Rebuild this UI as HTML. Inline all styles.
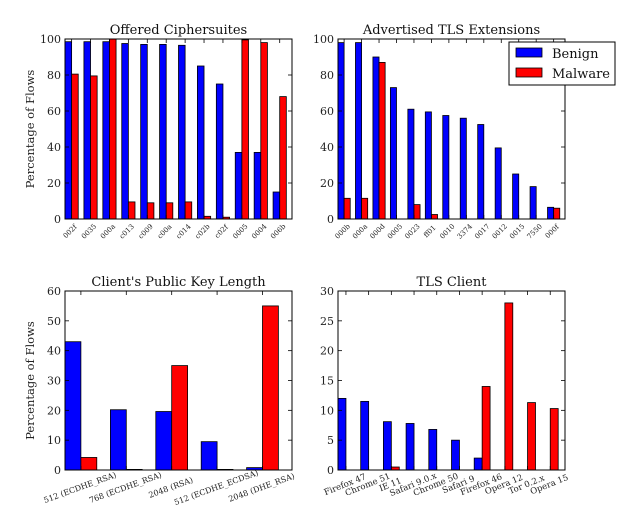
<!DOCTYPE html>
<html><head><meta charset="utf-8">
<style>
html,body{margin:0;padding:0;background:#fff;}
svg{display:block;font-family:"DejaVu Serif","Liberation Serif",serif;}
</style></head>
<body>
<svg id="fig" width="640" height="527" viewBox="0 0 640 527" xmlns="http://www.w3.org/2000/svg"></svg>
<script>
const c1Cats=["002f","0035","000a","c013","c009","c00a","c014","c02b","c02f","0005","0004","006b"];
const c1Benign=[98.5,98.5,98.5,97.5,97,97,96.5,85,75,37,37,15];
const c1Malware=[80.5,79.5,100,9.5,9,9,9.5,1.5,1,99.5,98,68];
const c1Ticks=[0,20,40,60,80,100];

const c2Cats=["000b","000a","000d","0005","0023","ff01","0010","3374","0017","0012","0015","7550","000f"];
const c2Benign=[98,98,90,73,61,59.5,57.5,56,52.5,39.5,25,18,6.5];
const c2Malware=[11.5,11.5,87,0,8,2.5,0,0,0,0,0,0,6];
const c2Ticks=[0,20,40,60,80,100];

const c3Cats=["512 (ECDHE_RSA)","768 (ECDHE_RSA)","2048 (RSA)","512 (ECDHE_ECDSA)","2048 (DHE_RSA)"];
const c3Benign=[43,20.2,19.6,9.5,0.8];
const c3Malware=[4.2,0.2,35,0.2,55];
const c3Ticks=[0,10,20,30,40,50,60];

const c4Cats=["Firefox 47","Chrome 51","IE 11","Safari 9.0.x","Chrome 50","Safari 9","Firefox 46","Opera 12","Tor 0.2.x","Opera 15"];
const c4Benign=[12,11.5,8.1,7.8,6.8,5,2,0,0,0];
const c4Malware=[0,0,0.5,0,0,0,14,28,11.3,10.3];
const c4Ticks=[0,5,10,15,20,25,30];

const NS="http://www.w3.org/2000/svg";
const fig=document.getElementById('fig');
function mk(tag,attrs,parent,text){const e=document.createElementNS(NS,tag);for(const k in attrs)e.setAttribute(k,attrs[k]);if(text!==undefined)e.textContent=text;(parent||fig).appendChild(e);return e;}

function chart(o){
  const g=mk('g',{});
  
  
  const n=o.cats.length, ymax=o.ticks[o.ticks.length-1];
  const xs=i=>o.x0+(o.x1-o.x0)*i/n;
  const ys=v=>o.y0+(o.yT-o.y0)*v/ymax;
  const w=(o.x1-o.x0)/n*0.35;
  o.cats.forEach((c,i)=>{
    const b=mk('rect',{x:xs(i),y:ys(o.ben[i]),width:w,height:o.y0-ys(o.ben[i]),fill:'#0000ff',stroke:'#000','stroke-width':0.8},g);
    
    
    const r=mk('rect',{x:xs(i)+w,y:ys(o.mal[i]),width:w,height:o.y0-ys(o.mal[i]),fill:'#ff0000',stroke:'#000','stroke-width':0.8},g);
    
    
    const tx=xs(i)+w;
    mk('line',{x1:tx,x2:tx,y1:o.y0,y2:o.y0-4,stroke:'#000','stroke-width':0.8},g);
    mk('line',{x1:tx,x2:tx,y1:o.yT,y2:o.yT+4,stroke:'#000','stroke-width':0.8},g);
    const t=mk('text',{x:0,y:0,'font-size':o.xfs,'text-anchor':'middle',fill:'#222',transform:`translate(${tx},${o.y0+o.ldy}) rotate(${-o.rot})`},g,c);
    
    
  });
  o.ticks.forEach(v=>{
    const y=ys(v);
    mk('line',{x1:o.x0,x2:o.x0+4,y1:y,y2:y,stroke:'#000','stroke-width':0.8},g);
    mk('line',{x1:o.x1,x2:o.x1-4,y1:y,y2:y,stroke:'#000','stroke-width':0.8},g);
    const t=mk('text',{x:o.x0-4,y:y+4,'font-size':11,'text-anchor':'end',fill:'#222'},g,String(v));
    
    
  });
  const fr=mk('rect',{x:o.x0,y:o.yT,width:o.x1-o.x0,height:o.y0-o.yT,fill:'none',stroke:'#000','stroke-width':1},g);
  
  
  const ti=mk('text',{x:(o.x0+o.x1)/2,y:o.yT-5,'font-size':13,'text-anchor':'middle',fill:'#111'},g,o.title);
  
  
  if(o.ylabel){
    const yl=mk('text',{x:0,y:0,'font-size':11.5,'text-anchor':'middle',fill:'#222',transform:`translate(34,${(o.y0+o.yT)/2}) rotate(-90)`},g,'Percentage of Flows');
    
    
  }
}
chart({name:'offered-ciphersuites-chart',cats:c1Cats,ben:c1Benign,mal:c1Malware,ticks:c1Ticks,x0:65,x1:292,y0:219,yT:39,title:'Offered Ciphersuites',ylabel:true,rot:45,xfs:7,ldy:14});
chart({name:'tls-extensions-chart',cats:c2Cats,ben:c2Benign,mal:c2Malware,ticks:c2Ticks,x0:338,x1:565,y0:219,yT:39,title:'Advertised TLS Extensions',ylabel:false,rot:45,xfs:7,ldy:14});
chart({name:'public-key-length-chart',cats:c3Cats,ben:c3Benign,mal:c3Malware,ticks:c3Ticks,x0:65,x1:292,y0:470,yT:291,title:"Client's Public Key Length",ylabel:true,rot:20,xfs:8,ldy:20});
chart({name:'tls-client-chart',cats:c4Cats,ben:c4Benign,mal:c4Malware,ticks:c4Ticks,x0:338,x1:565,y0:470,yT:291,title:'TLS Client',ylabel:false,rot:22,xfs:8.5,ldy:17});

const lg=mk('g',{});


mk('rect',{x:509,y:42,width:106,height:43,fill:'#fff',stroke:'#000','stroke-width':1},lg);
const lb=mk('rect',{x:516,y:48,width:26,height:9,fill:'#0000ff',stroke:'#000','stroke-width':0.8},lg);


const lt1=mk('text',{x:552,y:58,'font-size':13,fill:'#111'},lg,'Benign');


const lr=mk('rect',{x:516,y:68,width:26,height:9,fill:'#ff0000',stroke:'#000','stroke-width':0.8},lg);


const lt2=mk('text',{x:552,y:78,'font-size':13,fill:'#111'},lg,'Malware');


</script>
</body></html>
